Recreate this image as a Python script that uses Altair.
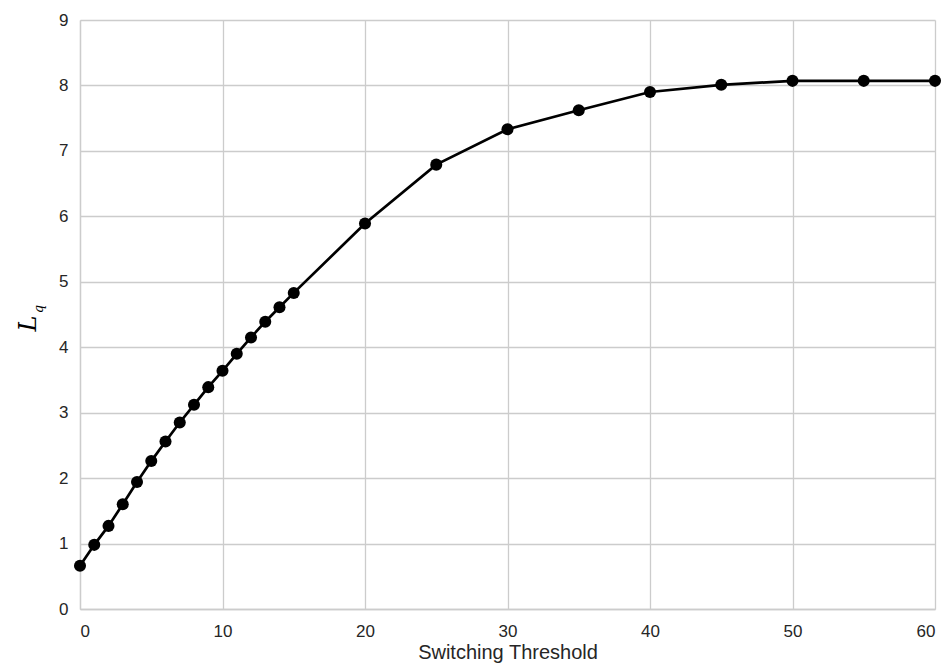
import altair as alt
import pandas as pd

threshold = [0, 1, 2, 3, 4, 5, 6, 7, 8, 9, 10, 11, 12, 13, 14, 15, 20, 25, 30, 35, 40, 45, 50, 55, 60]
lq = [0.66, 0.98, 1.27, 1.60, 1.94, 2.26, 2.56, 2.85, 3.12, 3.39, 3.64, 3.90, 4.15, 4.39, 4.61, 4.83,
      5.89, 6.79, 7.33, 7.62, 7.90, 8.01, 8.07, 8.07, 8.07]

df = pd.DataFrame({"threshold": threshold, "lq": lq})

W, H = 855, 589
label_font = "Liberation Sans"
label_color = "#262626"
grid_color = "#cccccc"

x_enc = alt.X("threshold:Q",
              scale=alt.Scale(domain=[0, 60], nice=False, zero=False),
              axis=alt.Axis(values=[0, 10, 20, 30, 40, 50, 60], title="Switching Threshold",
                            grid=True, ticks=False, tickSize=0, labelPadding=14,
                            titlePadding=3, titleFontWeight="normal", titleFontSize=20,
                            titleFont=label_font, titleColor=label_color))
y_enc = alt.Y("lq:Q",
              scale=alt.Scale(domain=[0, 9], nice=False, zero=True),
              axis=alt.Axis(values=list(range(10)), title="L",
                            titleFont="DejaVu Serif", titleFontStyle="italic",
                            titleFontWeight="normal", titleFontSize=24,
                            titleAngle=270, titleX=-45, titleY=303,
                            titleAlign="center", titleBaseline="alphabetic",
                            titleColor="black",
                            grid=True, ticks=False, tickSize=0, labelPadding=12))

line = alt.Chart(df).mark_line(color="black", strokeWidth=2.7).encode(x=x_enc, y=y_enc)
pts = alt.Chart(df).mark_circle(color="black", size=145, opacity=1).encode(x=x_enc, y=y_enc)

sub = alt.Chart(pd.DataFrame({"t": ["q"]})).mark_text(
    font="DejaVu Serif", fontStyle="italic", fontSize=13, angle=270,
    align="center", baseline="alphabetic", color="black"
).encode(text="t:N", x=alt.value(-37), y=alt.value(289))

chart = alt.layer(line, pts, sub).properties(
    width=W, height=H,
    autosize=alt.AutoSizeParams(type="none"),
    padding={"left": 72, "top": 12, "right": 9, "bottom": 55},
    background="white",
).configure_view(
    stroke=None
).configure_axis(
    gridColor=grid_color, gridWidth=1.3, domainColor=grid_color, domainWidth=1.3,
    labelFont=label_font, labelFontSize=17, labelColor=label_color,
)

chart.save("out.html", embed_options={"renderer": "svg", "actions": False})
